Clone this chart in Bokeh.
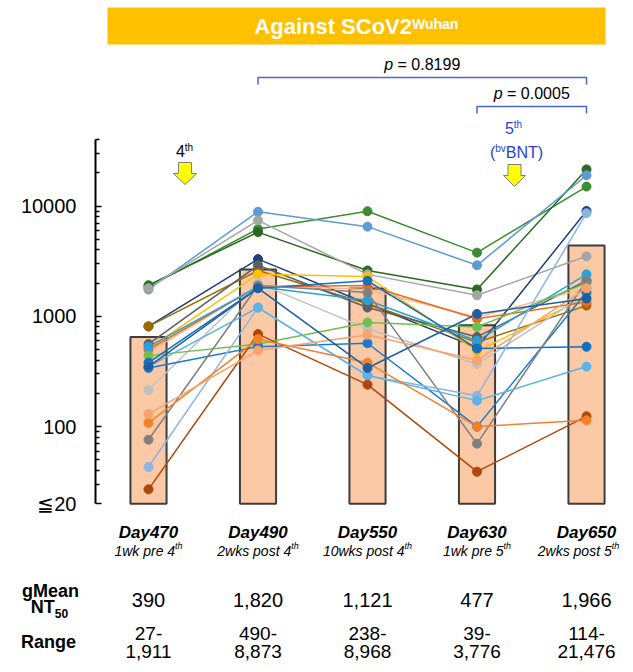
from bokeh.plotting import figure
from bokeh.models import Range1d, FixedTicker, NumeralTickFormatter
from bokeh.core.properties import value
from bokeh.embed import file_html
from bokeh.resources import INLINE

# ---------------- data ----------------
days = ["Day470", "Day490", "Day550", "Day630", "Day650"]
day_note_main = ["1wk pre 4", "2wks post 4", "10wks post 4", "1wk pre 5", "2wks post 5"]
day_note_sup = ["th", "th", "th", "th", "th"]
gmean_labels = ["390", "1,820", "1,121", "477", "1,966"]
range_low = ["27-", "490-", "238-", "39-", "114-"]
range_high = ["1,911", "8,873", "8,968", "3,776", "21,476"]
bar_heights = [650, 2660, 1790, 830, 4390]
p_labels = ["0.8199", "0.0005"]
p_pairs = [(1, 4), (3, 4)]
y_major = [20, 100, 1000, 10000]
y_minor = [30, 40, 50, 60, 70, 80, 90, 200, 300, 400, 500, 600, 700, 800, 900,
           2000, 3000, 4000, 5000, 6000, 7000, 8000, 9000, 20000, 30000, 40000]
FLOOR = 20
TOP = 40000

# individual NT50 trajectories (Day470, Day490, Day550, Day630, Day650)
s01 = [1850, 6200, 8968, 3776, 15000]
s02 = [1911, 5800, 2600, 1750, 21476]
s03 = [1750, 8873, 6500, 2900, 19000]
s04 = [1800, 7400, 2400, 1550, 3500]
s05 = [810, 3300, 1300, 520, 9000]
s06 = [810, 2600, 1300, 580, 1250]
s07 = [560, 2900, 1200, 650, 2100]
s08 = [510, 2400, 2300, 480, 1500]
s09 = [470, 1900, 1750, 980, 1800]
s10 = [500, 1850, 1900, 950, 1350]
s11 = [215, 2000, 770, 370, 1600]
s12 = [530, 1850, 1400, 600, 2400]
s13 = [440, 560, 880, 800, 2000]
s14 = [380, 1800, 2100, 510, 530]
s15 = [340, 530, 570, 100, 1650]
s16 = [76, 1900, 1640, 70, 2100]
s17 = [43, 1200, 290, 190, 8600]
s18 = [350, 1200, 290, 172, 350]
s19 = [27, 690, 240, 39, 124]
s20 = [108, 620, 380, 100, 114]
s21 = [130, 490, 680, 400, 1800]
s22 = [350, 1800, 340, 1050, 1450]

subject_colors = ["#3c8d2f", "#2a6a1e", "#5b9bd5", "#a5a5a5", "#1f3f7a", "#9c6b00",
                  "#5f5f5f", "#ffc000", "#f8b98e", "#ec6a1c", "#c0c0c0", "#27a0dc",
                  "#70c050", "#1170c0", "#1a7ad0", "#808080", "#8db4e2", "#5eb3e4",
                  "#b0470a", "#f4802a", "#f9a36a", "#1f5f9f"]
subjects = [s01, s02, s03, s04, s05, s06, s07, s08, s09, s10, s11,
            s12, s13, s14, s15, s16, s17, s18, s19, s20, s21, s22]

# ---------------- layout helpers ----------------
FONT = value("Liberation Sans")
FIG_W, FIG_H = 625, 664
AXIS_X = 95                  # x of the y axis line (px)
PX0, PXS = 148.0, 109.5      # x of first category and spacing (px)
Y0, DEC = 205.5, 110.3       # y of 10000 and px per decade (px)


def xd(xpx):
    return (xpx - PX0) / PXS


def val_at(ypx):
    return 10 ** (4 - (ypx - Y0) / DEC)


REG = {' ': 278, ',': 278, '-': 333, '(': 333, ')': 333, '=': 584, '.': 278,
       'p': 556, 'w': 722, 'k': 500, 'r': 333, 'e': 556, 't': 278, 'h': 556,
       's': 500, 'o': 556, 'b': 556, 'v': 500, 'B': 667, 'N': 722, 'T': 611,
       'W': 944, 'u': 556, 'a': 556, 'n': 556, 'i': 222, 'y': 500}
BOLD = {' ': 278, 'A': 722, 'g': 611, 'a': 556, 'i': 278, 'n': 611, 's': 556,
        't': 333, 'S': 667, 'C': 722, 'o': 611, 'V': 667, 'W': 944, 'u': 611,
        'h': 611, 'N': 722, 'T': 611, 'M': 833, 'e': 556, 'R': 722}


def tw(s, size, bold=False):
    d = BOLD if bold else REG
    return sum(d.get(c, 556) for c in s) * size / 1000.0


p = figure(width=FIG_W, height=FIG_H, y_axis_type="log",
           x_range=Range1d(xd(0), xd(FIG_W)),
           y_range=Range1d(val_at(FIG_H), val_at(0)),
           output_backend="svg", toolbar_location=None, x_axis_location=None,
           min_border_left=0, min_border_right=0, min_border_top=0,
           min_border_bottom=0)
p.grid.visible = False
p.outline_line_color = None


def put(xpx, ypx, txt, size, style="normal", color="black", align="center",
        baseline="middle"):
    p.text(x=[xd(xpx)], y=[val_at(ypx)], text=[txt], text_font=FONT,
           text_font_size=f"{size}px", text_font_style=style, text_color=color,
           text_align=align, text_baseline=baseline)


def put_pieces(xcenter, pieces, color="black"):
    # pieces: (text, size, style, baseline_y_px); leading spaces become offsets
    widths = [tw(t, s, "bold" in st) for t, s, st, _ in pieces]
    x = xcenter - sum(widths) / 2
    for (t, s, st, yb), w in zip(pieces, widths):
        lead = len(t) - len(t.lstrip(" "))
        put(x + tw(" " * lead, s, "bold" in st), yb - 0.35 * s, t.lstrip(" "), s, st,
            color, "left", "middle")
        x += w


# ---------------- y axis (drawn at a fixed x inside the frame) ----------------
ax = p.yaxis[0]
ax.fixed_location = xd(AXIS_X)
ax.ticker = FixedTicker(ticks=y_major, minor_ticks=y_minor)
ax.formatter = NumeralTickFormatter(format="0")
ax.major_label_overrides = {20: "≦20"}
ax.bounds = (FLOOR, TOP)
ax.axis_line_width = 2
ax.axis_line_color = "black"
ax.major_tick_in = 6
ax.major_tick_out = 0
ax.minor_tick_in = 4
ax.minor_tick_out = 0
ax.major_tick_line_width = 1.5
ax.minor_tick_line_width = 1.5
ax.major_tick_line_color = "black"
ax.minor_tick_line_color = "black"
ax.major_label_standoff = 19
ax.major_label_text_font = "Liberation Sans"
ax.major_label_text_font_size = "20px"
ax.major_label_text_color = "black"

# ---------------- title banner & p-values ----------------
p.quad(left=[xd(107)], right=[xd(605)], top=[val_at(7)], bottom=[val_at(44)],
       fill_color="#ffc000", line_color=None)
put_pieces(356, [("Against SCoV2", 22, "bold", 34), ("Wuhan", 14, "bold", 28)],
           color="white")

brk_y = [77, 106]
for (a, b), lab, yb in zip(p_pairs, p_labels, brk_y):
    p.multi_line(xs=[[a, a, b, b]], ys=[[val_at(yb + 7), val_at(yb), val_at(yb), val_at(yb + 7)]],
                 line_color="#4b66d6", line_width=1.5)
    xm = PX0 + PXS * (a + b) / 2
    put_pieces(xm, [("p", 16, "italic", yb - 7), (" = " + lab, 16, "normal", yb - 7)])

# ---------------- bars, lines, points ----------------
cats = list(range(len(days)))
p.vbar(x=cats, top=bar_heights, bottom=FLOOR, width=0.33,
       fill_color="#fcc9a6", line_color="#3d3d3d", line_width=2)

for vals, col in zip(subjects, subject_colors):
    p.line(x=cats, y=vals, line_color=col, line_width=1.5)
for vals, col in zip(subjects, subject_colors):
    p.scatter(x=cats, y=vals, size=9, fill_color=col, line_color=col)


def block_arrow(xc, ytop, yhead, ybot, shaft_w, head_w):
    pts = [(xc - shaft_w / 2, ytop), (xc + shaft_w / 2, ytop), (xc + shaft_w / 2, yhead),
           (xc + head_w / 2, yhead), (xc, ybot), (xc - head_w / 2, yhead),
           (xc - shaft_w / 2, yhead)]
    p.patch(x=[xd(a) for a, _ in pts], y=[val_at(b) for _, b in pts],
            fill_color="#ffff00", line_color="#7f7f7f", line_width=1)


block_arrow(184.5, 162, 173, 184, 13, 23)
block_arrow(514, 164, 175, 186, 13, 22)

put_pieces(184, [("4", 16, "normal", 156), ("th", 10, "normal", 150)])
put_pieces(513, [("5", 16, "normal", 133), ("th", 10, "normal", 127)], color="#2343d8")
put_pieces(516, [("(", 16, "normal", 158), ("bv", 10, "normal", 151),
                 ("BNT)", 16, "normal", 158)], color="#2343d8")

# ---------------- table below ----------------
for i in cats:
    cx = PX0 + PXS * i
    put(cx, 532, days[i], 17, "bold italic")
    cxn = cx if i < 4 else cx - 8
    put_pieces(cxn, [(day_note_main[i], 14, "italic", 555),
                     (day_note_sup[i], 9, "italic", 549)])
    put(cx, 599, gmean_labels[i], 20)
    put(cx, 633, range_low[i], 19)
    put(cx, 651, range_high[i], 19)

put_pieces(50, [("gMean", 18, "bold", 597)])
put_pieces(49, [("NT", 18, "bold", 613), ("50", 12, "bold", 617)])
put_pieces(48, [("Range", 18, "bold", 648)])

with open("out.html", "w") as fh:
    fh.write(file_html(p, INLINE))
